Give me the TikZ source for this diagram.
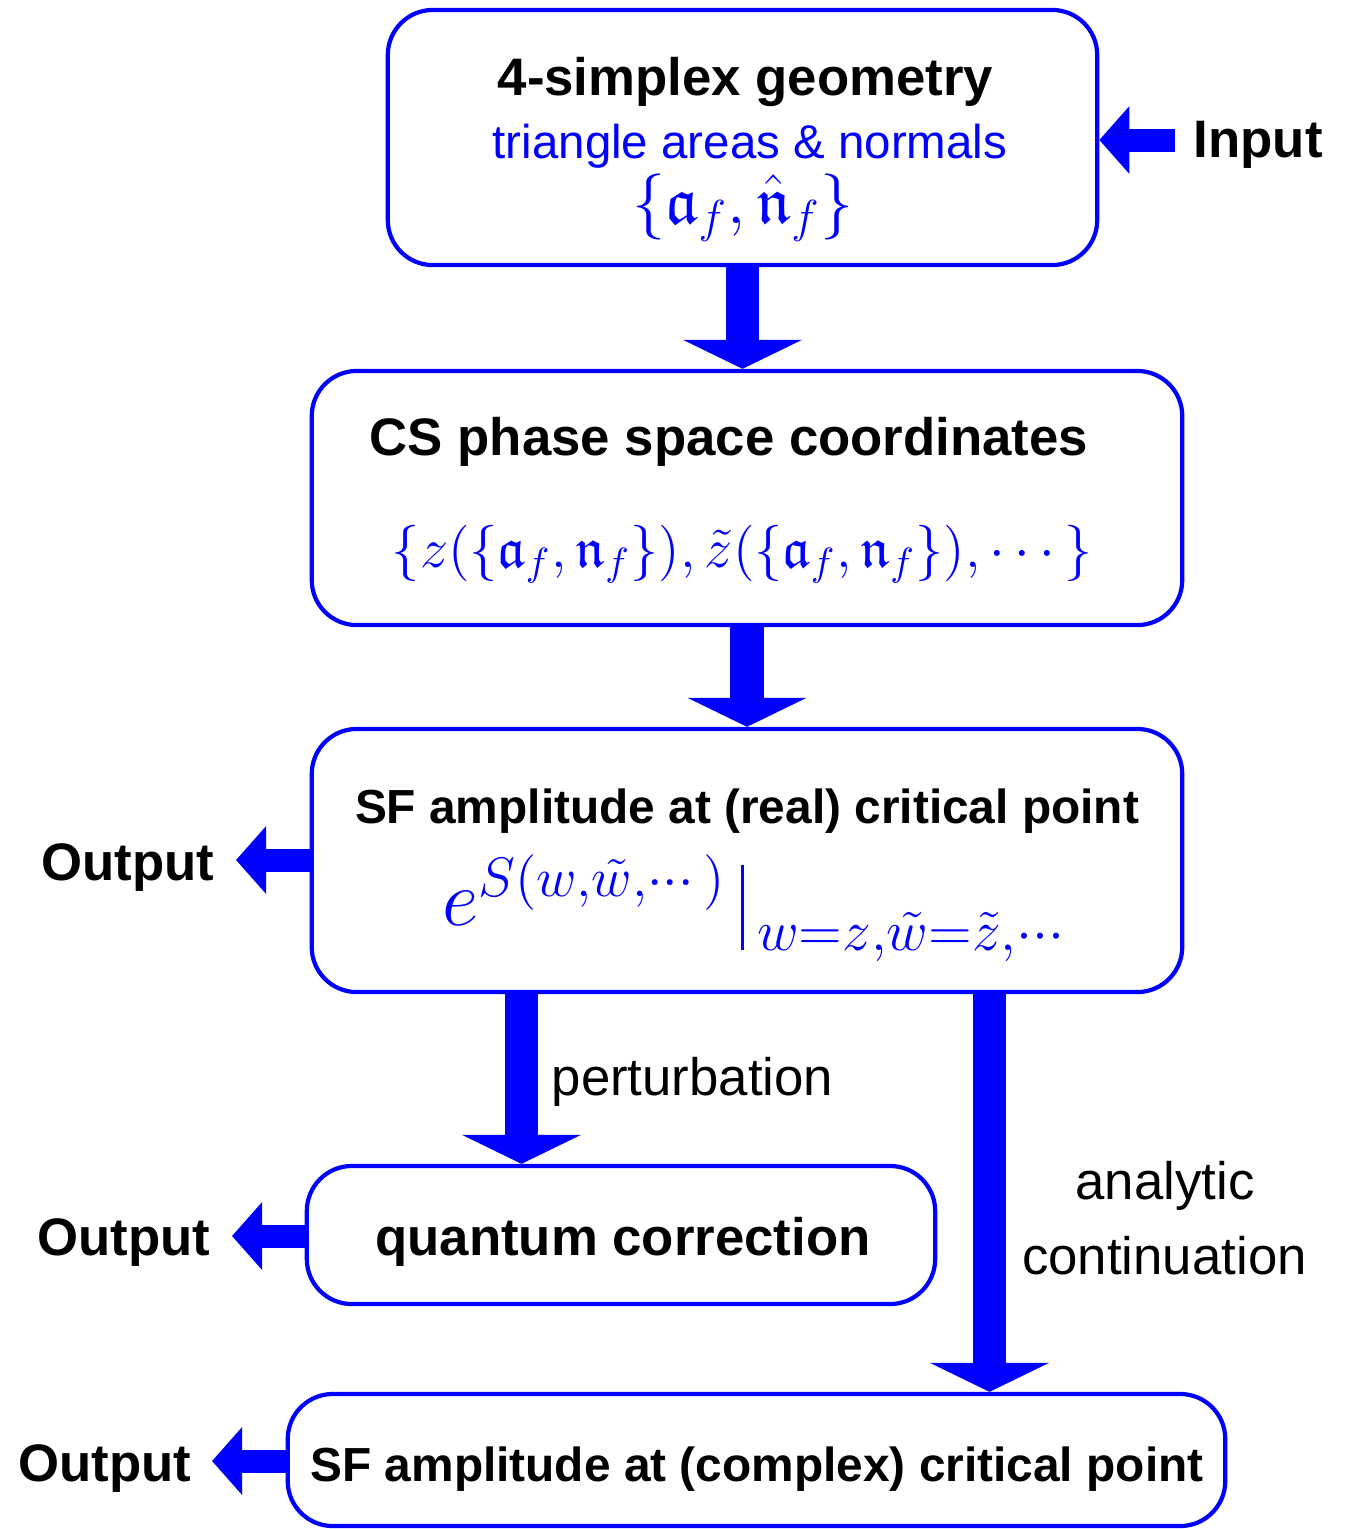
\RequirePackage{fix-cm}
\documentclass[tikz,border=0pt]{standalone}
\usepackage[no-math]{fontspec}
\setmainfont{Liberation Sans}
\usepackage{amsmath,amssymb}
\usetikzlibrary{arrows.meta}
\begin{document}
\begin{tikzpicture}[x=0.01cm,y=-0.01cm,
  box/.style={draw=blue, line width=1.2pt, rounded corners=0.45cm, inner sep=0},
  fat/.style={blue, line width=0.33cm, -{Triangle[width=1.18cm,length=0.29cm]}},
  side/.style={blue, line width=0.23cm, -{Triangle[width=0.66cm,length=0.30cm]}},
  bt/.style={font=\fontsize{15pt}{18pt}\selectfont\bfseries, inner sep=0},
  bts/.style={font=\fontsize{13.6pt}{16pt}\selectfont\bfseries, inner sep=0},
  rt/.style={font=\fontsize{15pt}{18pt}\selectfont, inner sep=0},
  mt/.style={text=blue, font=\fontsize{18.8pt}{22pt}\selectfont, inner sep=0}]
\useasboundingbox (0,0) rectangle (1356,1529);
% boxes
\node[box, minimum width=7.09cm, minimum height=2.55cm] (b1) at (742.5,137.5) {};
\node[box, minimum width=8.70cm, minimum height=2.54cm] (b2) at (747,498) {};
\node[box, minimum width=8.70cm, minimum height=2.63cm] (b3) at (747,860.5) {};
\node[box, minimum width=6.28cm, minimum height=1.38cm] (b4) at (621,1235) {};
\node[box, minimum width=9.37cm, minimum height=1.32cm] (b5) at (756.5,1460) {};
% texts
\node[bt, anchor=base] (t1) at (745.5,95) {4-simplex geometry};
\node[rt, anchor=base, text=blue, font=\fontsize{13.5pt}{16pt}\selectfont] (t1b) at (750,158) {triangle areas \& normals};
\node[mt, anchor=base] (m1) at (743,223) {$\{\mathfrak{a}_f,\hat{\mathfrak{n}}_f\}$};
\node[bt, anchor=base west] (inp) at (1193,157) {Input};
\node[bt, anchor=base] (t2) at (729,455) {CS phase space coordinates};
\node[mt, anchor=base, font=\fontsize{16pt}{19pt}\selectfont] (m2) at (742.5,567) {$\{z(\{\mathfrak{a}_f,\mathfrak{n}_f\}),\tilde z(\{\mathfrak{a}_f,\mathfrak{n}_f\}),\cdots\}$};
\node[bts, anchor=base] (t3) at (747,823) {SF amplitude at (real) critical point};
\node[mt, anchor=base, font=\fontsize{22.6pt}{25pt}\selectfont] (m3) at (758,925) {$e^{S(w,\tilde w,\cdots)}\hspace{0.15cm}\rule[-0.25cm]{0.03cm}{0.85cm}\hspace{0.13cm}\raisebox{-0.25cm}{\fontsize{23.3pt}{26pt}\selectfont$\scriptstyle w=z,\tilde w=\tilde z,\cdots$}$};
\node[bt, anchor=base east] (o3) at (215,880) {Output};
\node[rt, anchor=base west] (pert) at (551,1095) {perturbation};
\node[bt, anchor=base] (t4) at (623,1255) {quantum correction};
\node[bt, anchor=base east] (o4) at (211,1255) {Output};
\node[rt, anchor=base] (an1) at (1165,1199) {analytic};
\node[rt, anchor=base] (an2) at (1164.5,1274) {continuation};
\node[bts, anchor=base] (t5) at (757,1481) {SF amplitude at (complex) critical point};
\node[bt, anchor=base east] (o5) at (192,1481) {Output};
% helper coordinates
\coordinate (inS) at (1175,140);
\coordinate (o3t) at (236,860);
\coordinate (o4t) at (232,1236);
\coordinate (o5t) at (212,1461);
\coordinate (xp) at (521.5,0);
\coordinate (xa) at (989.5,0);
% connectors
\draw[fat] (b1.south) -- (b1.south |- b2.north);
\draw[fat] (b2.south) -- (b3.north);
\draw[fat] (xp |- b3.south) -- (xp |- b4.north);
\draw[fat] (xa |- b3.south) -- (xa |- b5.north);
\draw[side] (inS) -- (b1.east |- inS);
\draw[side] (b3.west |- o3t) -- (o3t);
\draw[side] (b4.west |- o4t) -- (o4t);
\draw[side] (b5.west |- o5t) -- (o5t);
\end{tikzpicture}
\end{document}
